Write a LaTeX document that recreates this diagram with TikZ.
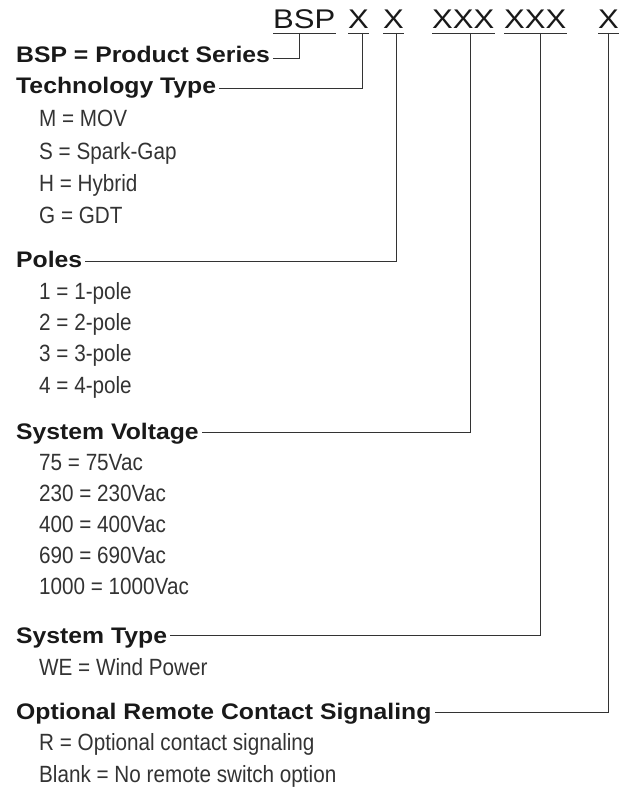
\documentclass[tikz,border=0pt]{standalone}
\usepackage{fontspec}
\setmainfont{Liberation Sans}
\newfontfamily\codefont[FakeStretch=1.15]{Liberation Sans}
\newfontfamily\headfont[FakeStretch=1.1]{Liberation Sans}
\newfontfamily\entryfont[FakeStretch=0.88]{Liberation Sans}

\tikzset{
    code/.style={anchor=base west, inner sep=0pt, font=\codefont\fontsize{27}{30}\selectfont, text=black!90},
    head/.style={anchor=base west, inner sep=0pt, font=\headfont\bfseries\fontsize{22.5}{26}\selectfont, text=black!90},
    entry/.style={anchor=base west, inner sep=0pt, font=\entryfont\fontsize{23.5}{27}\selectfont, text=black!80},
    lead/.style={line width=0.9pt, draw=black!80}
}

\begin{document}
\begin{tikzpicture}[x=1pt, y=-1pt]
        \useasboundingbox (0,0) rectangle (631,789);

        % Part number
        \node[code] (bsp)  at (273,29) {BSP};
        \node[code] (xa)   at (348,29) {X};
        \node[code] (xb)   at (383,29) {X};
        \node[code] (xxxa) at (432,29) {XXX};
        \node[code] (xxxb) at (504,29) {XXX};
        \node[code] (xc)   at (598,29) {X};

        % Underlines
        \foreach \p in {bsp,xa,xb,xxxa,xxxb,xc} {
            \draw[lead] ([yshift=-4pt]\p.base west) -- ([yshift=-4pt]\p.base east);
        }

        % Taps below the underlines
        \coordinate (bsp-tap)  at (299,33);
        \coordinate (xa-tap)   at (362,33);
        \coordinate (xb-tap)   at (396,33);
        \coordinate (xxxa-tap) at (470,33);
        \coordinate (xxxb-tap) at (540,33);
        \coordinate (xc-tap)   at (608,33);

        % Headings
        \node[head] (series)  at (16,63)  {BSP = Product Series};
        \node[head] (tech)    at (16,94)  {Technology Type};
        \node[head] (poles)   at (16,267) {Poles};
        \node[head] (voltage) at (16,439) {System Voltage};
        \node[head] (systype) at (16,643) {System Type};
        \node[head] (remote)  at (16,719) {Optional Remote Contact Signaling};

        % Technology type
        \foreach \t [count=\i] in {M = MOV, S = Spark-Gap, H = Hybrid, G = GDT} {
            \node[entry] (tech-\i) at (39,95+32*\i) {\t};
        }

        % Poles
        \foreach \t [count=\i] in {1 = 1-pole, 2 = 2-pole, 3 = 3-pole, 4 = 4-pole} {
            \node[entry] (poles-\i) at (39,268+31.3*\i) {\t};
        }

        % System voltage
        \foreach \t [count=\i] in {75 = 75Vac, 230 = 230Vac, 400 = 400Vac, 690 = 690Vac, 1000 = 1000Vac} {
            \node[entry] (voltage-\i) at (39,440+30.8*\i) {\t};
        }

        % System type
        \node[entry] (systype-1) at (39,675) {WE = Wind Power};

        % Remote signaling
        \node[entry] (remote-1) at (39,750) {R = Optional contact signaling};
        \node[entry] (remote-2) at (39,782) {Blank = No remote switch option};

        % Leader lines
        \draw[lead] (bsp-tap)  |- ([xshift=3pt,yshift=5pt]series.base east);
        \draw[lead] (xa-tap)   |- ([xshift=3pt,yshift=6pt]tech.base east);
        \draw[lead] (xb-tap)   |- ([xshift=3pt,yshift=6pt]poles.base east);
        \draw[lead] (xxxa-tap) |- ([xshift=3pt,yshift=7pt]voltage.base east);
        \draw[lead] (xxxb-tap) |- ([xshift=3pt,yshift=8pt]systype.base east);
        \draw[lead] (xc-tap)   |- ([xshift=3pt,yshift=7pt]remote.base east);

\end{tikzpicture}
\end{document}
